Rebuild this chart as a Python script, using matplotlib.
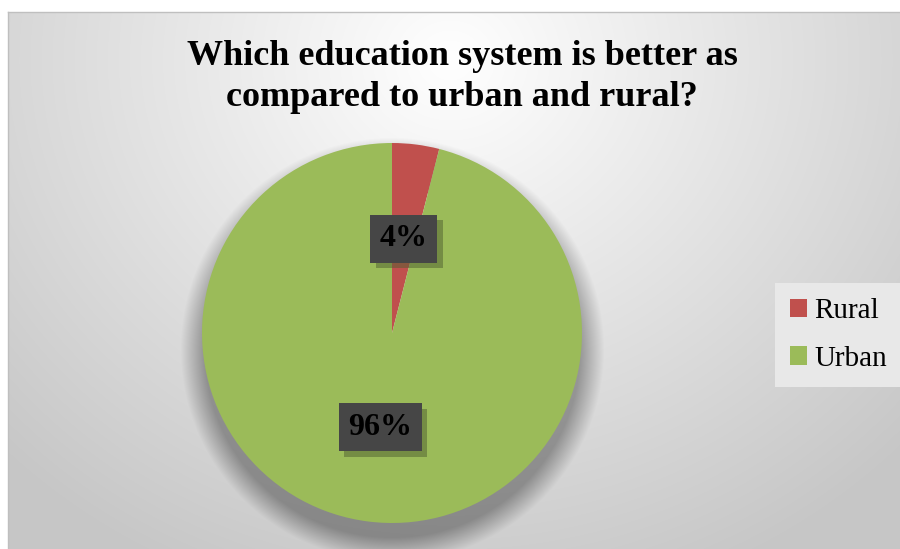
import numpy as np
import matplotlib.pyplot as plt
import matplotlib.patheffects as pe
from matplotlib.patches import Patch

# survey answers
labels = ["Rural", "Urban"]
shares = [4, 96]
colors = ["#c0504d", "#9bbb59"]
title = "Which education system is better as\ncompared to urban and rural?"

W, H = 900, 549
fig = plt.figure(figsize=(W / 100, H / 100), dpi=100)

# background panel with radial grey gradient
bg = fig.add_axes([0, 0, 1, 1])
bg.set_xlim(0, W)
bg.set_ylim(H, 0)
bg.axis("off")
xx, yy = np.meshgrid(np.arange(W), np.arange(H))
d = np.sqrt(((xx - 450) / 620.0) ** 2 + ((yy - 60) / 560.0) ** 2)
grey = 1.0 - 0.22 * np.clip(d, 0, 1)
# soft shadow under the pie, mostly below it
cx, cy, r = 392, 333, 190
rr = np.sqrt((xx - cx) ** 2 + (yy - cy - 16) ** 2)
shadow = 0.28 * np.clip(1 - (rr - r + 2) / 24.0, 0, 1) * (rr > r - 30)
grey = grey - shadow
img = np.dstack([grey, grey, grey])
img[:, :8] = 1.0
img[:12, :] = 1.0
bg.imshow(img, extent=(0, W, H, 0), aspect="auto", zorder=0)
bg.plot([8, W], [12, 12], color="#bfbfbf", lw=1)
bg.plot([8, 8], [12, H], color="#bfbfbf", lw=1)

# pie
pax = fig.add_axes([(cx - r) / W, (H - cy - r) / H, 2 * r / W, 2 * r / H])
wedges, texts, autotexts = pax.pie(shares, colors=colors, startangle=90,
                                   counterclock=False, radius=1,
                                   autopct="%d%%", pctdistance=0.5,
                                   textprops=dict(family="Liberation Serif",
                                                  fontsize=23, weight="bold",
                                                  color="black"))
pax.set_xlim(-1, 1)
pax.set_ylim(-1, 1)
pax.set_aspect("equal")
for t in autotexts:
    t.set_bbox(dict(boxstyle="square,pad=0.3", facecolor="#464646",
                    edgecolor="none"))
    t.get_bbox_patch().set_path_effects([
        pe.SimplePatchShadow(offset=(4, -4), shadow_rgbFace="#4f5e30", alpha=0.5),
        pe.Normal()])

fig.text(462 / W, 1 - 77 / H, title, ha="center", va="center",
         family="Liberation Serif", fontsize=26, weight="bold", linespacing=1.3)

handles = [Patch(facecolor=c, edgecolor="none") for c in colors]
leg = fig.legend(handles, labels, loc="center left",
                 bbox_to_anchor=(775 / W, 1 - 335 / H),
                 prop=dict(family="Liberation Serif", size=21),
                 frameon=True, labelspacing=0.75, handlelength=0.6,
                 handleheight=0.6, handletextpad=0.25, borderpad=0.5,
                 borderaxespad=0)
leg.get_frame().set_facecolor("#e8e8e8")
leg.get_frame().set_edgecolor("none")
leg.get_frame().set_alpha(1)
leg.get_frame().set_boxstyle("square", pad=0)

fig.savefig("out.png", dpi=100)
